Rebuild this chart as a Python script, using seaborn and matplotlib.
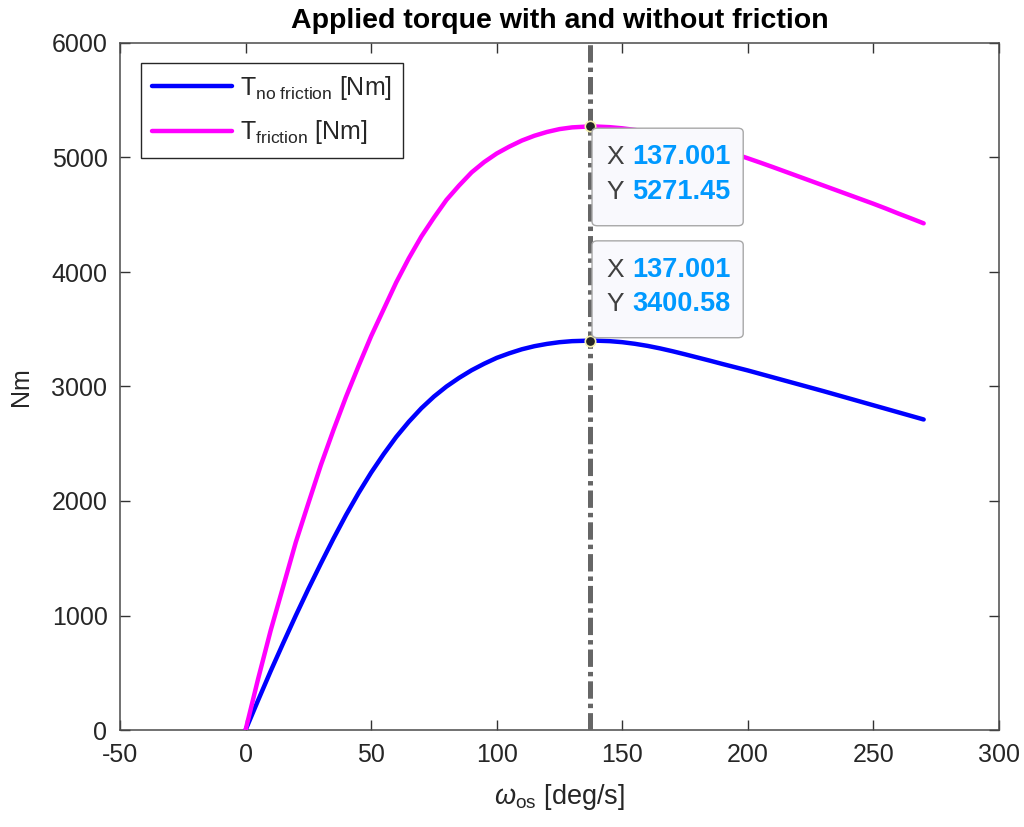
import numpy as np
import pandas as pd
import seaborn as sns
import matplotlib.pyplot as plt
from matplotlib.patches import FancyBboxPatch
from matplotlib.lines import Line2D

# Output shaft speed [deg/s]
omega = [0, 5, 10, 15, 20, 25, 30, 35, 40, 45, 50, 55, 60, 65, 70, 75, 80,
         85, 90, 95, 100, 105, 110, 115, 120, 125, 130, 137.001, 140, 145,
         150, 155, 160, 165, 170, 175, 180, 185, 190, 195, 200, 205, 210,
         215, 220, 225, 230, 235, 240, 245, 250, 255, 260, 265, 270]

# Applied torque without friction [Nm]
torque_no_friction = [0, 260, 515, 760, 1000, 1232, 1455, 1672, 1878, 2070,
                      2248, 2410, 2560, 2692, 2810, 2912, 3000, 3075, 3142,
                      3199, 3250, 3290, 3325, 3352, 3372, 3387, 3396, 3400.58,
                      3400, 3396, 3387, 3373, 3355, 3333, 3308, 3281, 3253,
                      3225, 3196, 3168, 3140, 3110, 3080, 3050, 3020, 2990,
                      2960, 2929, 2898, 2867, 2836, 2805, 2774, 2743, 2712]

# Applied torque with friction [Nm]
torque_friction = [0, 447, 870, 1255, 1640, 1980, 2315, 2620, 2910, 3180,
                   3440, 3675, 3910, 4120, 4310, 4475, 4630, 4755, 4870, 4960,
                   5035, 5095, 5148, 5190, 5223, 5248, 5263, 5271.45, 5270,
                   5265, 5255, 5241, 5224, 5204, 5181, 5155, 5127, 5097, 5065,
                   5030, 4993, 4955, 4916, 4876, 4836, 4796, 4756, 4716, 4676,
                   4636, 4596, 4554, 4510, 4468, 4425]

# Operating point of maximum torque
peak_omega = 137.001
peak_no_friction = 3400.58
peak_friction = 5271.45

x_ticks = [-50, 0, 50, 100, 150, 200, 250, 300]
y_ticks = [0, 1000, 2000, 3000, 4000, 5000, 6000]

sns.set_theme(style="white")
plt.rcParams['font.family'] = ['Liberation Sans', 'DejaVu Sans']
plt.rcParams['mathtext.fontset'] = 'custom'
plt.rcParams['mathtext.rm'] = 'Liberation Sans'
plt.rcParams['mathtext.it'] = 'Liberation Sans:italic'
plt.rcParams['mathtext.bf'] = 'Liberation Sans:bold'
plt.rcParams['lines.scale_dashes'] = False

fig = plt.figure(figsize=(10.24, 8.27), dpi=100)
ax = fig.add_axes([120 / 1024, 97 / 827, 879 / 1024, 687 / 827])

df = pd.DataFrame({
    "omega": omega * 2,
    "torque": torque_no_friction + torque_friction,
    "series": ["nf"] * len(omega) + ["f"] * len(omega),
})
palette = {"nf": "#0000ff", "f": "#ff00ff"}
sns.lineplot(data=df, x="omega", y="torque", hue="series", palette=palette,
             linewidth=3.2, ax=ax, legend=False, sort=True, zorder=3)

# vertical dash-dot marker at the peak speed
vline = ax.axvline(peak_omega, color="#666666", linewidth=3.6, zorder=4)
vline.set_dashes([12.5, 3.6, 3.2, 3.6])

# data tip markers
ax.plot([peak_omega, peak_omega], [peak_friction, peak_no_friction], "o",
        color="#262626", markersize=7.5, markeredgecolor="#f5f0b0",
        markeredgewidth=1.2, zorder=6, linestyle="none")

# data tip boxes
tip_boxes = [
    (0.537, 0.734, 0.172, 0.142, peak_omega, peak_friction),
    (0.537, 0.571, 0.172, 0.141, peak_omega, peak_no_friction),
]
for bx, by, bw, bh, vx, vy in tip_boxes:
    patch = FancyBboxPatch((bx, by), bw, bh, transform=ax.transAxes,
                           boxstyle="round,pad=0,rounding_size=0.006",
                           facecolor="#f9f9fd", edgecolor="#a8a8a8",
                           linewidth=1.0, zorder=7)
    ax.add_patch(patch)
    rows = [("X", f"{vx:.3f}", by + bh * 0.70), ("Y", f"{vy:.2f}", by + bh * 0.345)]
    for lab, val, ty in rows:
        ax.text(bx + 0.0165, ty, lab, transform=ax.transAxes, fontsize=19,
                color="#404040", va="center", ha="left", zorder=8)
        ax.text(bx + 0.046, ty, val, transform=ax.transAxes, fontsize=19.5,
                color="#0099ff", fontweight="bold", va="center", ha="left",
                zorder=8)

ax.set_xlim(-50, 300)
ax.set_ylim(0, 6000)
ax.set_xticks(x_ticks)
ax.set_yticks(y_ticks)
ax.set_xticklabels([str(t) for t in x_ticks])
ax.set_yticklabels([str(t) for t in y_ticks])
ax.tick_params(direction="in", length=7, width=1.0, color="#333333",
               labelsize=18, labelcolor="#262626", top=True, right=True,
               pad=9, bottom=True, left=True)
for sp in ax.spines.values():
    sp.set_color("#4a4a4a")
    sp.set_linewidth(1.1)
    sp.set_visible(True)

ax.set_title("Applied torque with and without friction", fontsize=20.5,
             fontweight="bold", color="black", pad=11)
ax.set_xlabel(r"$\omega_{\mathregular{os}}$ [deg/s]", fontsize=19.5,
              color="#262626", labelpad=11)
ax.set_ylabel("Nm", fontsize=18, color="#262626", labelpad=13)

handles = [Line2D([], [], color="#0000ff", linewidth=3.2),
           Line2D([], [], color="#ff00ff", linewidth=3.2)]
labels = [r"T$_{\mathregular{no\ friction}}$ [Nm]",
          r"T$_{\mathregular{friction}}$ [Nm]"]
leg = ax.legend(handles, labels, loc="upper left",
                bbox_to_anchor=(0.024, 0.971), borderaxespad=0,
                fontsize=18, frameon=True, fancybox=False, framealpha=1,
                edgecolor="#262626", handlelength=3.2, handletextpad=0.3,
                borderpad=0.45, labelspacing=0.65)
leg.get_frame().set_linewidth(1.0)

fig.savefig("out.png", dpi=100, facecolor="white")
